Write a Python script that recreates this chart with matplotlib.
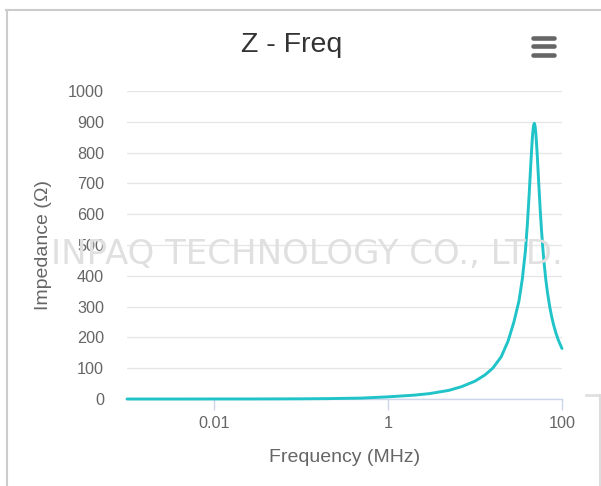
import matplotlib
matplotlib.use("Agg")
import matplotlib.pyplot as plt
from matplotlib.patches import Rectangle
from matplotlib.lines import Line2D

plt.rcParams['font.family'] = ['Liberation Sans', 'DejaVu Sans']

# ---- data ----
freq_mhz = [0.001, 0.002, 0.005, 0.01, 0.02, 0.05, 0.1, 0.2, 0.5, 1, 2, 3, 5, 7,
            10, 13, 16, 20, 24, 28, 32, 35, 38, 40, 42, 44, 45, 46, 47, 48, 49,
            50, 51, 52, 54, 56, 58, 60, 62, 65, 68, 72, 76, 80, 85, 90, 95, 100]
impedance = [0.0, 0.0, 0.0, 0.1, 0.1, 0.3, 0.6, 1.2, 3.0, 7.0, 12.5, 17.5, 28, 40,
             58, 78, 100, 137, 188, 250, 318, 390, 482, 568, 668, 773, 821, 861, 886, 895, 887,
             863, 829, 789, 702, 621, 552, 495, 447, 390, 347, 302, 268, 241, 215, 194, 178, 164]

x_ticks = [0.01, 1, 100]
x_tick_labels = ['0.01', '1', '100']
y_ticks = list(range(0, 1001, 100))

title = 'Z - Freq'
x_title = 'Frequency (MHz)'
y_title = 'Impedance (Ω)'
watermark = 'INPAQ TECHNOLOGY CO., LTD.'

W, H = 601, 486
fig = plt.figure(figsize=(W / 100, H / 100), dpi=100)
fig.patch.set_facecolor('white')

L, R, T, B = 127, 562, 91, 399
ax = fig.add_axes([L / W, 1 - B / H, (R - L) / W, (B - T) / H])
ax.patch.set_visible(False)

# watermark (behind plot, clipped at plot right edge)
wm = fig.text(307 / W, 1 - 254 / H, watermark, fontsize=24.5, color='#e0e0e0',
              family='DejaVu Sans', ha='center', va='center', zorder=0)
clip = Rectangle((0, 0), R / W, 1, transform=fig.transFigure)
wm.set_clip_path(clip)

line_color = '#1fc3c8'
ax.plot(freq_mhz, impedance, color=line_color, lw=2.1, solid_capstyle='round',
        solid_joinstyle='round', zorder=3, clip_on=False)

ax.set_xscale('log')
ax.set_xlim(0.001, 100)
ax.set_ylim(0, 1000)
ax.set_xticks(x_ticks)
ax.set_xticklabels(x_tick_labels)
ax.xaxis.set_minor_locator(matplotlib.ticker.NullLocator())
ax.set_yticks(y_ticks)
ax.set_yticklabels([str(v) for v in y_ticks])

for s in ['top', 'right', 'left']:
    ax.spines[s].set_visible(False)
ax.spines['bottom'].set_color('#ccd6eb')
ax.spines['bottom'].set_linewidth(1.0)
ax.spines['bottom'].set_zorder(2)

ax.grid(axis='y', color='#e6e6e6', lw=1.0, zorder=1)
ax.set_axisbelow(True)
ax.tick_params(axis='y', length=0, pad=16.5, labelsize=11.7, labelcolor='#666666')
ax.tick_params(axis='x', length=8, width=1.0, color='#ccd6eb', pad=4.5,
               labelsize=11.7, labelcolor='#666666')

ax.set_xlabel(x_title, fontsize=14, color='#666666', va='center')
ax.xaxis.set_label_coords(0.5, (B - 457) / (B - T))
ax.set_ylabel(y_title, fontsize=14, color='#666666', va='center')
ax.yaxis.set_label_coords((44 - L) / (R - L), 0.5)

fig.text(292 / W, 1 - 52 / H, title, fontsize=20.5, color='#333333',
         ha='center', va='baseline')

# menu (hamburger) icon
for yc in [38, 46.5, 55]:
    fig.add_artist(Line2D([533 / W, 554 / W], [1 - yc / H, 1 - yc / H],
                          transform=fig.transFigure, color='#666666', lw=3.3,
                          solid_capstyle='round'))

# card borders
fig.add_artist(Line2D([6.5 / W, 6.5 / W], [0, 1 - 10 / H], transform=fig.transFigure,
                      color='#cccccc', lw=1.5))
fig.add_artist(Line2D([6 / W, 1], [1 - 10.5 / H, 1 - 10.5 / H], transform=fig.transFigure,
                      color='#cccccc', lw=1.5))
fig.add_artist(Line2D([586 / W, 1], [1 - 395 / H, 1 - 395 / H], transform=fig.transFigure,
                      color='#e0e0e0', lw=2))
fig.add_artist(Line2D([600 / W, 600 / W], [0, 1 - 395 / H], transform=fig.transFigure,
                      color='#dddddd', lw=1.5))

fig.savefig('out.png', dpi=100, facecolor='white')
